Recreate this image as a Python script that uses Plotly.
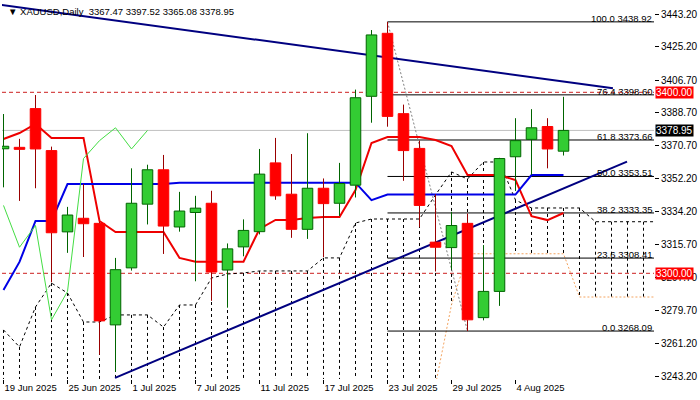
import plotly.graph_objects as go

# ---------------- data ----------------
dates = ["19 Jun 2025", "20 Jun 2025", "23 Jun 2025", "24 Jun 2025", "25 Jun 2025", "26 Jun 2025",
         "27 Jun 2025", "30 Jun 2025", "1 Jul 2025", "2 Jul 2025", "3 Jul 2025", "4 Jul 2025",
         "7 Jul 2025", "8 Jul 2025", "9 Jul 2025", "10 Jul 2025", "11 Jul 2025", "14 Jul 2025",
         "15 Jul 2025", "16 Jul 2025", "17 Jul 2025", "18 Jul 2025", "21 Jul 2025", "22 Jul 2025",
         "23 Jul 2025", "24 Jul 2025", "25 Jul 2025", "28 Jul 2025", "29 Jul 2025", "30 Jul 2025",
         "31 Jul 2025", "1 Aug 2025", "4 Aug 2025", "5 Aug 2025", "6 Aug 2025", "7 Aug 2025"]

opens = [3368.8, 3369.6, 3391.0, 3367.8, 3322.9, 3330.4, 3327.6, 3271.5, 3303.0, 3338.2, 3357.2, 3325.6,
         3333.6, 3338.7, 3301.8, 3314.6, 3323.0, 3361.0, 3343.7, 3324.3, 3347.0, 3338.7, 3348.7, 3397.8,
         3432.6, 3388.2, 3369.0, 3317.2, 3314.2, 3327.6, 3275.5, 3290.0, 3364.4, 3374.0, 3381.1, 3367.47]
highs = [3388.0, 3374.3, 3398.5, 3370.0, 3336.7, 3349.3, 3328.5, 3308.5, 3358.0, 3360.0, 3365.4, 3345.0,
         3342.8, 3345.6, 3316.5, 3329.8, 3368.7, 3374.8, 3365.9, 3377.4, 3352.4, 3361.0, 3401.5, 3434.4,
         3438.92, 3393.2, 3373.3, 3343.7, 3334.0, 3333.0, 3315.6, 3363.8, 3385.7, 3390.7, 3385.7, 3397.52]
lows = [3347.5, 3340.0, 3347.0, 3295.0, 3311.3, 3309.0, 3255.0, 3245.5, 3301.5, 3327.0, 3310.7, 3323.0,
        3295.6, 3284.8, 3281.0, 3309.4, 3321.5, 3340.6, 3319.6, 3319.0, 3308.9, 3331.7, 3341.9, 3383.2,
        3381.0, 3351.1, 3325.5, 3301.0, 3302.0, 3268.09, 3274.0, 3282.0, 3345.5, 3354.4, 3358.0, 3365.08]
closes = [3370.2, 3368.5, 3368.7, 3322.4, 3332.2, 3327.4, 3273.7, 3302.0, 3338.7, 3357.2, 3326.1, 3334.4,
          3336.0, 3300.7, 3313.5, 3323.7, 3354.8, 3342.8, 3324.3, 3347.0, 3338.5, 3349.6, 3397.0, 3431.7,
          3386.7, 3367.8, 3337.5, 3314.4, 3326.4, 3274.3, 3290.0, 3363.4, 3373.3, 3380.4, 3368.7, 3378.95]

# Ichimoku lines
tenkan = [3374.2, 3377.5, 3382.5, 3374.8, 3374.8, 3374.8, 3328.9, 3322.8, 3322.8, 3322.8, 3322.8, 3308.5,
          3306.4, 3306.4, 3306.4, 3306.4, 3324.5, 3329.5, 3329.5, 3330.6, 3331.1, 3331.1, 3346.0, 3372.0,
          3375.3, 3375.3, 3375.3, 3373.6, 3370.3, 3354.3, 3354.3, 3354.3, 3351.5, 3331.6, 3329.4, 3333.3]
kijun = [3290.8, 3306.3, 3328.9, 3328.9, 3349.3, 3349.3, 3349.3, 3349.3, 3349.3, 3349.3, 3349.3, 3350.1,
         3350.1, 3350.1, 3350.1, 3350.1, 3350.1, 3350.1, 3350.1, 3350.1, 3350.1, 3350.1, 3350.1, 3340.4,
         3343.5, 3343.5, 3343.5, 3343.5, 3343.5, 3343.5, 3343.5, 3343.5, 3343.5, 3354.3, 3354.3, 3354.3]
span_upper = [3268.7, 3259.3, 3281.4, 3294.6, 3289.1, 3273.1, 3273.1, 3277.0, 3277.0, 3277.0, 3270.3,
              3282.5, 3282.5, 3297.4, 3299.6, 3300.2, 3301.3, 3301.3, 3301.3, 3301.3, 3308.5, 3308.5,
              3327.8, 3330.0, 3330.0, 3330.0, 3330.0, 3343.3, 3356.0, 3352.1, 3361.5, 3361.5, 3340.5,
              3336.1, 3336.1, 3336.1, 3336.1, 3328.5, 3328.5, 3328.5, 3328.5, 3328.5]
span_lower = [3220.0] * 26 + [3200.0, 3238.3, 3282.6, 3310.8, 3310.8, 3310.8, 3310.8, 3310.8, 3310.8,
                              3310.8, 3286.9, 3286.9, 3286.9, 3286.9, 3286.9, 3286.9]
chikou_shift = 26

# Fibonacci retracement
fib_levels = [100.0, 76.4, 61.8, 50.0, 38.2, 23.6, 0.0]
fib_prices = [3438.92, 3398.60, 3373.66, 3353.51, 3333.35, 3308.41, 3268.09]
fib_start_date = "23 Jul 2025"
fib_end_date = "30 Jul 2025"

# trend lines: (bar index, price) pairs
trend_down_x = [-0.22, 38.09]
trend_down_y = [3448.4, 3402.2]
trend_up_x = [6.97, 38.97]
trend_up_y = [3242.2, 3361.7]

# horizontal levels
round_levels = [3400.0, 3300.0]

# axis ticks
x_tick_dates = ["19 Jun 2025", "25 Jun 2025", "1 Jul 2025", "7 Jul 2025", "11 Jul 2025",
                "17 Jul 2025", "23 Jul 2025", "29 Jul 2025", "4 Aug 2025"]
y_tick_labels = ["3443.20", "3425.20", "3406.70", "3388.70", "3370.70", "3352.20",
                 "3334.20", "3315.70", "3297.70", "3279.70", "3261.20", "3243.20"]

# ---------------- figure ----------------
n = len(dates)
xs = list(range(n))
X_RANGE = [-0.094, 40.656]
Y_RANGE = [3241.6, 3449.9]
FONT = "Liberation Sans, Arial, sans-serif"

fig = go.Figure()

# round-number levels and bid line (below everything)
for lv in round_levels:
    fig.add_shape(type="line", xref="paper", x0=0, x1=1, yref="y", y0=lv, y1=lv,
                  line=dict(color="#cc2020", width=1, dash="4px,3px"), layer="below")
fig.add_shape(type="line", xref="paper", x0=0, x1=1, yref="y", y0=closes[-1], y1=closes[-1],
              line=dict(color="#c0c0c0", width=1), layer="below")

# cloud hatching
hx, hy = [], []
for i in range(len(span_upper)):
    hx += [i, i, None]
    hy += [span_upper[i], span_lower[i], None]
fig.add_trace(go.Scatter(x=hx, y=hy, mode="lines", line=dict(color="black", width=1, dash="3px,3px"),
                         hoverinfo="skip", showlegend=False))
sx = list(range(len(span_upper)))
fig.add_trace(go.Scatter(x=sx, y=span_upper, mode="lines",
                         line=dict(color="black", width=1, dash="3px,3px"), showlegend=False))
fig.add_trace(go.Scatter(x=sx, y=span_lower, mode="lines",
                         line=dict(color="#f4a460", width=1, dash="2px,2px"), showlegend=False))

# fib lines
fx0 = dates.index(fib_start_date)
fx1 = dates.index(fib_end_date)
for lvl, p in zip(fib_levels, fib_prices):
    fig.add_trace(go.Scatter(x=[fx0, X_RANGE[1]], y=[p, p], mode="lines",
                             line=dict(color="black", width=1), showlegend=False))
fig.add_trace(go.Scatter(x=[fx0, fx1], y=[fib_prices[0], fib_prices[-1]], mode="lines",
                         line=dict(color="#808080", width=1, dash="2px,2px"), showlegend=False))

# trend lines
fig.add_trace(go.Scatter(x=trend_down_x, y=trend_down_y, mode="lines",
                         line=dict(color="#000080", width=2), showlegend=False))
fig.add_trace(go.Scatter(x=trend_up_x, y=trend_up_y, mode="lines",
                         line=dict(color="#000080", width=2), showlegend=False))

# Ichimoku lines
fig.add_trace(go.Scatter(x=xs, y=tenkan, mode="lines", line=dict(color="#ee0000", width=2), showlegend=False))
fig.add_trace(go.Scatter(x=xs, y=kijun, mode="lines", line=dict(color="#0000e6", width=2), showlegend=False))
ch_x = xs[:n - chikou_shift]
ch_y = closes[chikou_shift:]
fig.add_trace(go.Scatter(x=ch_x, y=ch_y, mode="lines", line=dict(color="#44dd44", width=1), showlegend=False))

# candles: wicks
wg_x, wg_y, wr_x, wr_y = [], [], [], []
for i in range(n):
    top = max(opens[i], closes[i])
    bot = min(opens[i], closes[i])
    seg_x = [i, i, None, i, i, None]
    seg_y = [highs[i], top, None, bot, lows[i], None]
    if closes[i] >= opens[i]:
        wg_x += seg_x; wg_y += seg_y
    else:
        wr_x += seg_x; wr_y += seg_y
fig.add_trace(go.Scatter(x=wg_x, y=wg_y, mode="lines", line=dict(color="#006400", width=1),
                         showlegend=False, zorder=5))
fig.add_trace(go.Scatter(x=wr_x, y=wr_y, mode="lines", line=dict(color="#990000", width=1),
                         showlegend=False, zorder=5))

# candles: bodies
gx = [i for i in xs if closes[i] >= opens[i]]
rx = [i for i in xs if closes[i] < opens[i]]
fig.add_trace(go.Bar(x=gx, base=[opens[i] for i in gx], y=[closes[i] - opens[i] for i in gx],
                     width=0.66, marker=dict(color="#33cc33", line=dict(color="#006400", width=1)),
                     showlegend=False, zorder=6))
fig.add_trace(go.Bar(x=rx, base=[closes[i] for i in rx], y=[opens[i] - closes[i] for i in rx],
                     width=0.66, marker=dict(color="#ff0000", line=dict(color="#ff0000", width=1)),
                     showlegend=False, zorder=6))

# fib labels
for lvl, p in zip(fib_levels, fib_prices):
    fig.add_annotation(xref="paper", x=1, xanchor="right", xshift=-1, yref="y", y=p, yanchor="bottom",
                       yshift=-3, text=f"{lvl:.1f} {p:.2f}", showarrow=False,
                       font=dict(family=FONT, size=9.5, color="black"), borderpad=0)

# price tags on the scale
for lv in round_levels:
    fig.add_annotation(xref="paper", x=1, xanchor="left", xshift=1, yref="y", y=lv, yanchor="middle",
                       text=f"{lv:.2f}", showarrow=False, bgcolor="#ff0000",
                       font=dict(family=FONT, size=10, color="white"), borderpad=0)
fig.add_annotation(xref="paper", x=1, xanchor="left", xshift=1, yref="y", y=closes[-1], yanchor="middle",
                   text=f"{closes[-1]:.2f}", showarrow=False, bgcolor="#000000",
                   font=dict(family=FONT, size=10, color="white"), borderpad=0)

# title
title = f"▼ XAUUSD,Daily  {opens[-1]:.2f} {highs[-1]:.2f} {lows[-1]:.2f} {closes[-1]:.2f}"
fig.add_annotation(xref="paper", yref="paper", x=0, y=1, xanchor="left", yanchor="top", xshift=4, yshift=-2,
                   text=title, showarrow=False, font=dict(family=FONT, size=9.5, color="black"))

fig.update_layout(
    width=700, height=400, template="none", barmode="overlay",
    paper_bgcolor="white", plot_bgcolor="white",
    margin=dict(l=2, r=46, t=2, b=21),
    showlegend=False,
    font=dict(family=FONT, size=10, color="black"),
    xaxis=dict(range=X_RANGE, showgrid=False, zeroline=False, showline=True, linecolor="black",
               linewidth=1, mirror=True, ticks="outside", ticklen=4, tickcolor="black",
               tickvals=[dates.index(d) for d in x_tick_dates], ticktext=x_tick_dates,
               ticklabelposition="outside right", tickfont=dict(family=FONT, size=9.5),
               automargin=False, fixedrange=True),
    yaxis=dict(range=Y_RANGE, side="right", showgrid=False, zeroline=False, showline=True,
               linecolor="black", linewidth=1, mirror=True, ticks="outside", ticklen=4, tickcolor="black",
               tickvals=[float(t) for t in y_tick_labels], ticktext=y_tick_labels,
               tickfont=dict(family=FONT, size=10), automargin=False, fixedrange=True),
)

fig.write_html("out.html", config={"displayModeBar": False},
               post_script="document.body.style.margin='0';document.body.style.padding='0';")
